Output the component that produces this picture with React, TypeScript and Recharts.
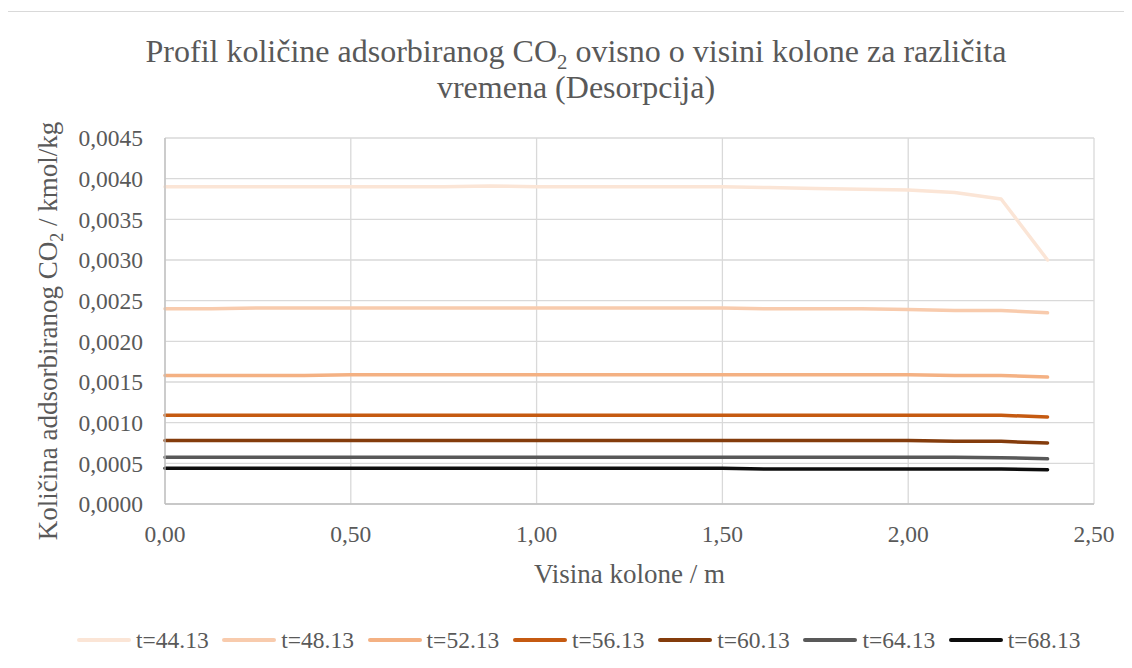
import { LineChart, Line, XAxis, YAxis, CartesianGrid } from "recharts";

// column height (m)
const heights = [
  0, 0.125, 0.25, 0.375, 0.5, 0.625, 0.75, 0.875, 1, 1.125, 1.25, 1.375, 1.5, 1.625, 1.75, 1.875, 2, 2.125, 2.25,
  2.375,
];

// adsorbed CO2 (kmol/kg) per time
const t4413 = [
  0.0039, 0.0039, 0.0039, 0.0039, 0.0039, 0.0039, 0.0039, 0.00391, 0.0039, 0.0039, 0.0039, 0.0039, 0.0039, 0.00389,
  0.00388, 0.00387, 0.00386, 0.00383, 0.00375, 0.003,
];
const t4813 = [
  0.0024, 0.0024, 0.00241, 0.00241, 0.00241, 0.00241, 0.00241, 0.00241, 0.00241, 0.00241, 0.00241, 0.00241, 0.00241,
  0.0024, 0.0024, 0.0024, 0.00239, 0.00238, 0.00238, 0.00235,
];
const t5213 = [
  0.00158, 0.00158, 0.00158, 0.00158, 0.00159, 0.00159, 0.00159, 0.00159, 0.00159, 0.00159, 0.00159, 0.00159, 0.00159,
  0.00159, 0.00159, 0.00159, 0.00159, 0.00158, 0.00158, 0.00156,
];
const t5613 = [
  0.00109, 0.00109, 0.00109, 0.00109, 0.00109, 0.00109, 0.00109, 0.00109, 0.00109, 0.00109, 0.00109, 0.00109, 0.00109,
  0.00109, 0.00109, 0.00109, 0.00109, 0.00109, 0.00109, 0.00107,
];
const t6013 = [
  0.00078, 0.00078, 0.00078, 0.00078, 0.00078, 0.00078, 0.00078, 0.00078, 0.00078, 0.00078, 0.00078, 0.00078, 0.00078,
  0.00078, 0.00078, 0.00078, 0.00078, 0.00077, 0.00077, 0.00075,
];
const t6413 = [
  0.000575, 0.000575, 0.000575, 0.000575, 0.000575, 0.000575, 0.000575, 0.000575, 0.000575, 0.000575, 0.000575,
  0.000575, 0.000575, 0.000575, 0.000575, 0.000575, 0.000575, 0.000575, 0.00057, 0.000555,
];
const t6813 = [
  0.00044, 0.00044, 0.00044, 0.00044, 0.00044, 0.00044, 0.00044, 0.00044, 0.00044, 0.00044, 0.00044, 0.00044, 0.00044,
  0.00043, 0.00043, 0.00043, 0.00043, 0.00043, 0.00043, 0.00042,
];

const seriesNames = ["t=44.13", "t=48.13", "t=52.13", "t=56.13", "t=60.13", "t=64.13", "t=68.13"];
const seriesColors = ["#FBE5D6", "#F8CBAD", "#F4B183", "#C55A11", "#843C0C", "#595959", "#0D0D0D"];
const seriesValues = [t4413, t4813, t5213, t5613, t6013, t6413, t6813];

const xTicks = [0, 0.5, 1, 1.5, 2, 2.5];
const yTicks = [0, 0.0005, 0.001, 0.0015, 0.002, 0.0025, 0.003, 0.0035, 0.004, 0.0045];

const data = heights.map((h, i) => {
  const row: Record<string, number> = { h };
  seriesValues.forEach((vals, s) => {
    row["s" + s] = vals[i];
  });
  return row;
});

const FONT = "Liberation Serif, Tinos, Times New Roman, DejaVu Serif, serif";
const TEXT = "#595959";

const comma = (v: number, d: number) => v.toFixed(d).replace(".", ",");

const XTitle = ({ viewBox }: any) => (
  <text
    x={viewBox.x + viewBox.width / 2}
    y={viewBox.y + 79}
    textAnchor="middle"
    fill={TEXT}
    style={{ fontSize: 27, fontFamily: FONT }}
  >
    Visina kolone / m
  </text>
);

const YTitle = () => (
  <text transform="translate(49,319) rotate(-90)" textAnchor="middle" fill={TEXT} style={{ fontSize: 27, fontFamily: FONT }}>
    Količina addsorbiranog CO
    <tspan dy={6} style={{ fontSize: 18 }}>
      2
    </tspan>
    <tspan dy={-6}> / kmol/kg</tspan>
  </text>
);

export default function App() {
  return (
    <div
      style={{
        position: "relative",
        top: 3,
        left: -1,
        width: 1140,
        height: 660,
        borderLeft: "1px solid #d9d9d9",
        borderTop: "1px solid #d9d9d9",
        fontFamily: FONT,
        color: TEXT,
      }}
    >
      <LineChart
        width={1124}
        height={656}
        data={data}
        margin={{ top: 126, right: 38, bottom: 104, left: 0 }}
        style={{ fontFamily: FONT }}
      >
        <CartesianGrid stroke="#d9d9d9" strokeWidth={1.3} />
        <XAxis
          dataKey="h"
          type="number"
          domain={[0, 2.5]}
          ticks={xTicks}
          tickFormatter={(v) => comma(v, 2)}
          height={60}
          axisLine={{ stroke: "#bfbfbf", strokeWidth: 1.3 }}
          tickLine={false}
          tickSize={0}
          tickMargin={21}
          tick={{ fill: TEXT, fontSize: 23.5, fontFamily: FONT }}
          label={{ content: XTitle }}
        />
        <YAxis
          type="number"
          domain={[0, 0.0045]}
          ticks={yTicks}
          tickFormatter={(v) => comma(v, 4)}
          width={157}
          axisLine={{ stroke: "#bfbfbf", strokeWidth: 1.3 }}
          tickLine={false}
          tickSize={0}
          tickMargin={22}
          tick={{ fill: TEXT, fontSize: 23.5, fontFamily: FONT }}
          label={{ content: YTitle }}
        />
        {seriesNames.map((name, s) => (
          <Line
            key={name}
            type="linear"
            dataKey={"s" + s}
            name={name}
            stroke={seriesColors[s]}
            strokeWidth={3.5}
            strokeLinecap="round"
            strokeLinejoin="round"
            dot={false}
            isAnimationActive={false}
          />
        ))}
      </LineChart>

      <div
        style={{
          position: "absolute",
          left: 0,
          top: 21,
          width: 1136,
          textAlign: "center",
          fontSize: 32,
          lineHeight: "36px",
          whiteSpace: "nowrap",
        }}
      >
        <div>
          Profil količine adsorbiranog CO<sub style={{ fontSize: "0.65em", lineHeight: 0 }}>2</sub> ovisno o visini
          kolone za različita
        </div>
        <div>vremena (Desorpcija)</div>
      </div>

      <div style={{ position: "absolute", left: 69, top: 616, display: "flex", alignItems: "center" }}>
        {seriesNames.map((name, s) => (
          <div key={name} style={{ display: "flex", alignItems: "center", width: 145.3, height: 24 }}>
            <svg width={54} height={8}>
              <line x1={2} y1={4} x2={52} y2={4} stroke={seriesColors[s]} strokeWidth={4} strokeLinecap="round" />
            </svg>
            <span style={{ marginLeft: 5, fontSize: 23.5, lineHeight: "24px" }}>{name}</span>
          </div>
        ))}
      </div>
    </div>
  );
}
